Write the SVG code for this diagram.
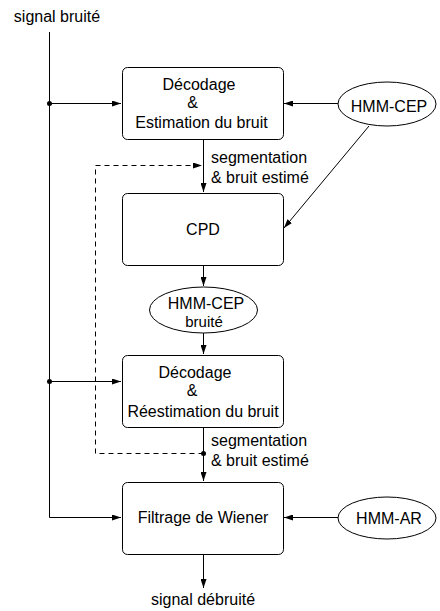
<svg xmlns="http://www.w3.org/2000/svg" width="440" height="611" viewBox="0 0 440 611">
<defs>
<marker id="ah" markerWidth="9" markerHeight="6" refX="9" refY="3" orient="auto" markerUnits="userSpaceOnUse">
<path d="M0,0 L9,3 L0,6 Z" fill="#000"/>
</marker>
</defs>
<style>
text{font-family:"Liberation Sans",Arial,sans-serif;font-size:16px;fill:#000}
.c{text-anchor:middle}
.box{fill:#fff;stroke:#000;stroke-width:1}
.ln{fill:none;stroke:#000;stroke-width:1}
.dash{fill:none;stroke:#000;stroke-width:1;stroke-dasharray:5,4}
</style>
<rect width="440" height="611" fill="#fff"/>
<g id="connectors">
<path class="ln" d="M49.5,32 V517.5 H121" marker-end="url(#ah)"/>
<path class="ln" d="M49.5,103.5 H121" marker-end="url(#ah)"/>
<path class="ln" d="M49.5,381.5 H121" marker-end="url(#ah)"/>
<path class="ln" d="M338,103.5 H284" marker-end="url(#ah)"/>
<path class="ln" d="M369,126 L284,228" marker-end="url(#ah)"/>
<path class="ln" d="M203.5,139 V192" marker-end="url(#ah)"/>
<path class="dash" d="M203.5,453.5 H95.5 V165.5 H202" marker-end="url(#ah)"/>
<path class="ln" d="M203.5,265 V286" marker-end="url(#ah)"/>
<path class="ln" d="M203.5,333 V354" marker-end="url(#ah)"/>
<path class="ln" d="M203.5,427 V481" marker-end="url(#ah)"/>
<path class="ln" d="M338,517.5 H284" marker-end="url(#ah)"/>
<path class="ln" d="M203.5,554 V588" marker-end="url(#ah)"/>
<circle cx="49.5" cy="103.5" r="2.5" fill="#000"/>
<circle cx="49.5" cy="381.5" r="2.5" fill="#000"/>
<circle cx="203.5" cy="453.5" r="2.5" fill="#000"/>
</g>
<g id="in"><text x="57" y="22" class="c">signal bruité</text></g>
<g id="decodage1">
<rect class="box" x="122.5" y="67.5" width="161" height="72" rx="5"/>
<text x="199" y="89.5" class="c">Décodage</text>
<text x="192.5" y="107.5" class="c">&amp;</text>
<text x="201.5" y="127.5" class="c">Estimation du bruit</text>
</g>
<g id="hmmcep1">
<ellipse class="box" cx="387" cy="104" rx="49" ry="22"/>
<text x="389" y="111.5" class="c">HMM-CEP</text>
</g>
<g id="seg1">
<text x="211" y="163">segmentation</text>
<text x="211" y="182.5">&amp; bruit estimé</text>
</g>
<g id="cpd">
<rect class="box" x="122.5" y="193.5" width="161" height="72" rx="5"/>
<text x="203" y="235" class="c">CPD</text>
</g>
<g id="hmmcep2">
<ellipse class="box" cx="203.5" cy="310" rx="54" ry="23"/>
<text x="206" y="308.5" class="c">HMM-CEP</text>
<text x="204" y="326.5" class="c" style="font-size:15px">bruité</text>
</g>
<g id="decodage2">
<rect class="box" x="122.5" y="355.5" width="161" height="72" rx="5"/>
<text x="195" y="377.5" class="c">Décodage</text>
<text x="192" y="396" class="c">&amp;</text>
<text x="203" y="416.5" class="c">Réestimation du bruit</text>
</g>
<g id="seg2">
<text x="211" y="446">segmentation</text>
<text x="211" y="466">&amp; bruit estimé</text>
</g>
<g id="wiener">
<rect class="box" x="122.5" y="482.5" width="161" height="72" rx="5"/>
<text x="203" y="523" class="c">Filtrage de Wiener</text>
</g>
<g id="hmmar">
<ellipse class="box" cx="387" cy="518" rx="49" ry="21"/>
<text x="389" y="524" class="c">HMM-AR</text>
</g>
<g id="out"><text x="203" y="605" class="c">signal débruité</text></g>
</svg>
